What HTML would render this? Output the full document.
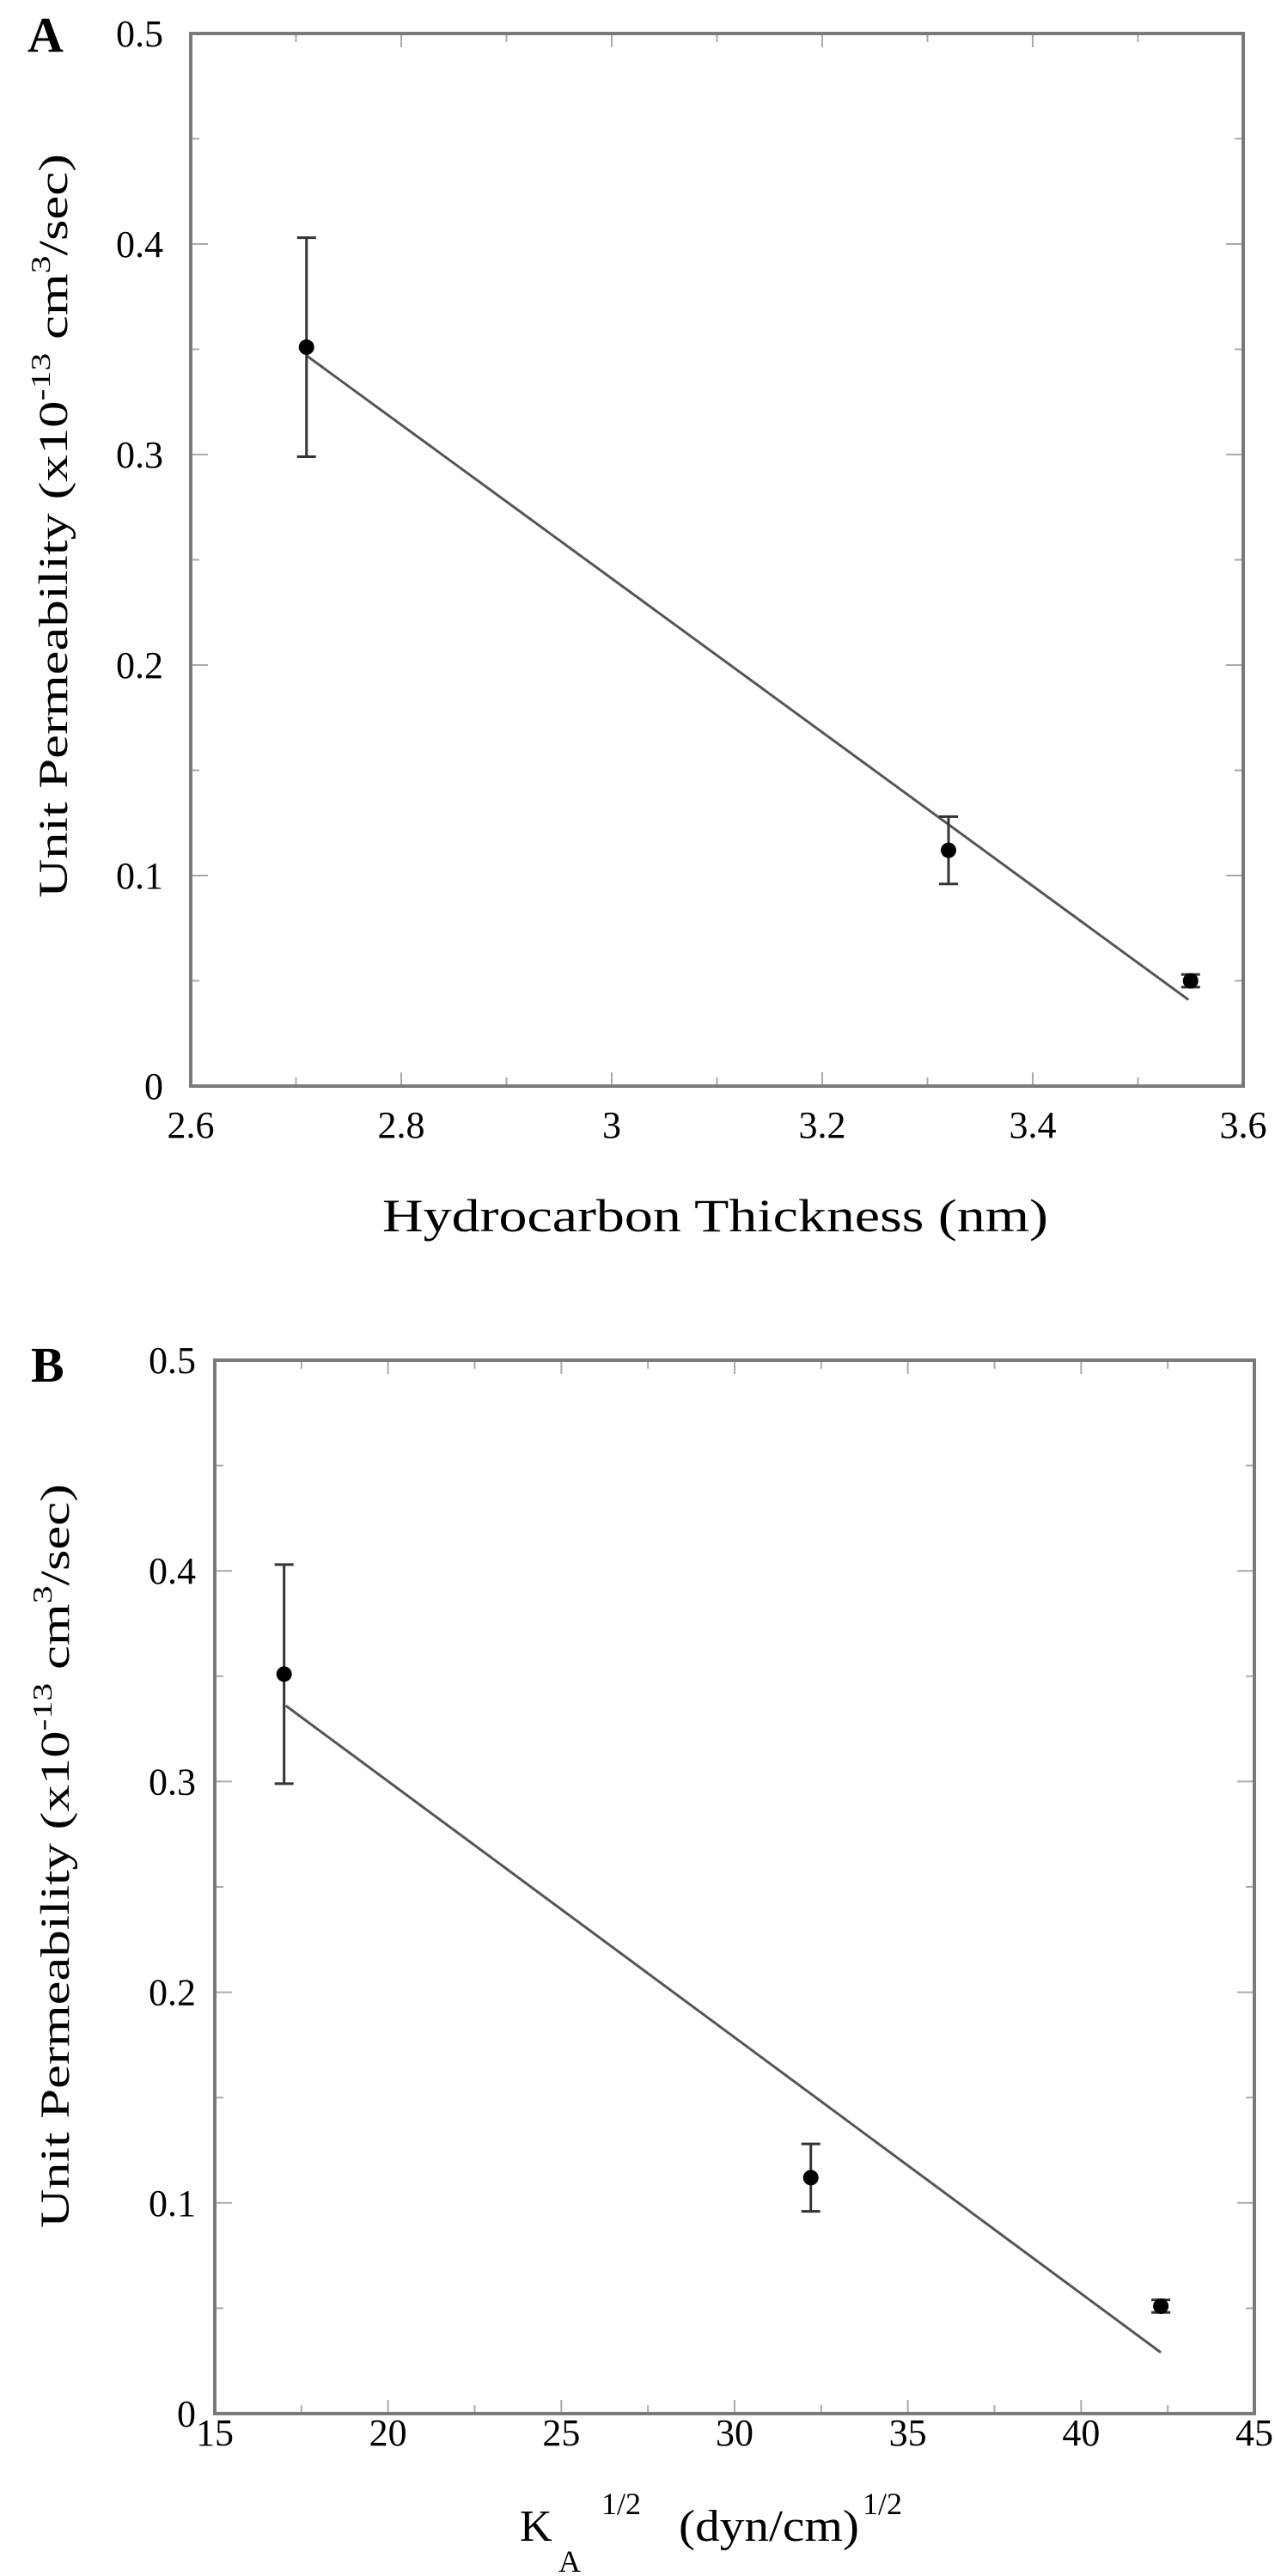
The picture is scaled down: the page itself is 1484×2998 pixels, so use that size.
<!DOCTYPE html>
<html><head><meta charset="utf-8"><style>
html,body{margin:0;padding:0;background:#fff;}
svg{display:block;font-family:"Liberation Serif",serif;}
</style></head><body>
<svg id="fig" width="1484" height="2998" viewBox="0 0 1484 2998" xmlns="http://www.w3.org/2000/svg">
<text x="32" y="60" font-size="58" font-weight="bold">A</text>
<text x="36" y="1608" font-size="58" font-weight="bold">B</text>
<g id="pa"></g>
<g id="pb"></g>
<text transform="translate(78,612) rotate(-90)" text-anchor="middle" font-size="48" textLength="866" lengthAdjust="spacingAndGlyphs">Unit Permeability (x10<tspan dy="-20" font-size="32">-13</tspan><tspan dy="20"> cm</tspan><tspan dy="-20" font-size="32">3</tspan><tspan dy="20">/sec)</tspan></text>
<text transform="translate(80,2160) rotate(-90)" text-anchor="middle" font-size="48" textLength="866" lengthAdjust="spacingAndGlyphs">Unit Permeability (x10<tspan dy="-20" font-size="32">-13</tspan><tspan dy="20"> cm</tspan><tspan dy="-20" font-size="32">3</tspan><tspan dy="20">/sec)</tspan></text>
<text x="445" y="1433" font-size="54" textLength="775" lengthAdjust="spacingAndGlyphs">Hydrocarbon Thickness (nm)</text>
<g font-size="52">
<text x="605" y="2957">K</text>
<text x="650" y="2993" font-size="36">A</text>
<text x="700" y="2926" font-size="36">1/2</text>
<text x="790" y="2957" textLength="210" lengthAdjust="spacingAndGlyphs">(dyn/cm)</text>
<text x="1004" y="2926" font-size="36">1/2</text>
</g>
</svg>
<script>
const aX = [2.71, 3.32, 3.55];
const aY = [0.351, 0.112, 0.050];
const aErr = [0.052, 0.016, 0.003];
const aFitX = [2.71, 3.548];
const aFitY = [0.347, 0.041];
const aXTicks = ["2.6","2.8","3","3.2","3.4","3.6"];
const yTicks = ["0","0.1","0.2","0.3","0.4","0.5"];
const bX = [17.0, 32.2, 42.3];
const bY = [0.351, 0.112, 0.051];
const bErr = [0.052, 0.016, 0.003];
const bFitX = [17.05, 42.3];
const bFitY = [0.336, 0.029];
const bXTicks = ["15","20","25","30","35","40","45"];

const NS="http://www.w3.org/2000/svg";
function mk(parent,tag,attrs){const e=document.createElementNS(NS,tag);for(const k in attrs)e.setAttribute(k,attrs[k]);parent.appendChild(e);return e;}

function drawPanel(g,cfg){
  const sx=v=>cfg.L+(v-cfg.xmin)/(cfg.xmax-cfg.xmin)*(cfg.R-cfg.L);
  const sy=v=>cfg.B-(v-0)/(0.5)*(cfg.B-cfg.T);
  const ax="#7a7a7a";
  const nx=cfg.xTicks.length-1;
  for(let i=0;i<=nx*2;i++){
    const v=cfg.xmin+(cfg.xmax-cfg.xmin)*i/(nx*2);
    const len=i%2===0?16:10;
    const t1=mk(g,'line',{x1:sx(v),x2:sx(v),y1:cfg.B,y2:cfg.B-len,stroke:'#aaa','stroke-width':2});
    
    
    const t2=mk(g,'line',{x1:sx(v),x2:sx(v),y1:cfg.T,y2:cfg.T+len,stroke:'#aaa','stroke-width':2});
    
    
  }
  for(let i=0;i<=10;i++){
    const v=i*0.05;const len=i%2===0?20:10;
    const t1=mk(g,'line',{x1:cfg.L,x2:cfg.L+len,y1:sy(v),y2:sy(v),stroke:'#aaa','stroke-width':2});
    
    
    const t2=mk(g,'line',{x1:cfg.R,x2:cfg.R-len,y1:sy(v),y2:sy(v),stroke:'#aaa','stroke-width':2});
    
    
  }
  const fr=mk(g,'rect',{x:cfg.L,y:cfg.T,width:cfg.R-cfg.L,height:cfg.B-cfg.T,fill:'none',stroke:ax,'stroke-width':4});
  
  
  cfg.xTicks.forEach((s,i)=>{
    const v=cfg.xmin+(cfg.xmax-cfg.xmin)*i/nx;
    const t=mk(g,'text',{x:sx(v),y:cfg.xLabY,'text-anchor':'middle','font-size':44});
    t.textContent=s;
    
    
  });
  yTicks.forEach((s,i)=>{
    const t=mk(g,'text',{x:cfg.yLabX,y:sy(i*0.1)+15,'text-anchor':'end','font-size':44});
    t.textContent=s;
    
    
  });
  const fit=mk(g,'line',{x1:sx(cfg.fx[0]),y1:sy(cfg.fy[0]),x2:sx(cfg.fx[1]),y2:sy(cfg.fy[1]),stroke:'#555','stroke-width':3});
  
  
  cfg.x.forEach((xv,i)=>{
    const cx=sx(xv),lo=sy(cfg.y[i]-cfg.e[i]),hi=sy(cfg.y[i]+cfg.e[i]);
    const eb=mk(g,'path',{d:`M${cx},${lo}V${hi}M${cx-11},${lo}H${cx+11}M${cx-11},${hi}H${cx+11}`,stroke:'#333','stroke-width':3,fill:'none'});
    
    
    const c=mk(g,'circle',{cx:cx,cy:sy(cfg.y[i]),r:9,fill:'#000'});
    
    
  });
}
drawPanel(document.getElementById('pa'),{L:222,R:1447,T:39,B:1264,xmin:2.6,xmax:3.6,xTicks:aXTicks,x:aX,y:aY,e:aErr,fx:aFitX,fy:aFitY,xLabY:1324,yLabX:190});
drawPanel(document.getElementById('pb'),{L:250,R:1460,T:1583,B:2809,xmin:15,xmax:45,xTicks:bXTicks,x:bX,y:bY,e:bErr,fx:bFitX,fy:bFitY,xLabY:2846,yLabX:228});
</script>
</body></html>
